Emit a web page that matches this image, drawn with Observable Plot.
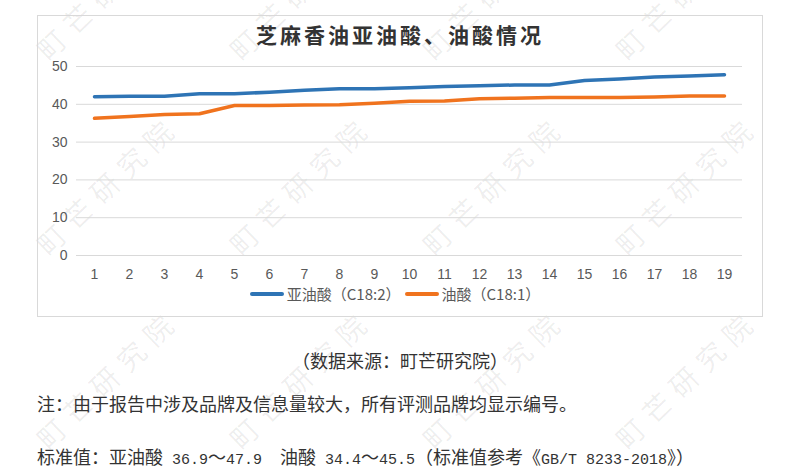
<!DOCTYPE html>
<html>
<head>
<meta charset="utf-8">
<script src="https://cdn.jsdelivr.net/npm/d3@7"></script>
<script src="https://cdn.jsdelivr.net/npm/@observablehq/plot@0.6"></script>
<style>
  html, body { margin: 0; padding: 0; background: #fff; }
  #page { position: relative; width: 800px; height: 471px; overflow: hidden; background: #fff;
          font-family: "Noto Sans CJK SC", "Noto Sans", sans-serif; }
  .wm { position: absolute; font-size: 28px; letter-spacing: 9px; color: rgba(0,0,0,0.075);
        white-space: nowrap; transform: translate(-50%, -50%) rotate(-44deg); pointer-events: none; z-index: 0; }
  #box { position: absolute; left: 37px; top: 15px; width: 724px; height: 300px; border: 1px solid #d9d9d9; z-index: 1; }
  #title { position: absolute; left: 0; width: 800px; top: 19px; text-align: center; font-size: 21px;
           font-weight: bold; letter-spacing: 3px; color: #333; z-index: 2; }
  #chart { position: absolute; left: 37px; top: 50px; z-index: 2; }
  #legend { position: absolute; left: 0; width: 790px; top: 283px; display: flex; justify-content: center;
            align-items: center; font-size: 15px; color: #595959; z-index: 2; }
  .item { display: flex; align-items: center; margin: 0 2px; }
  .sw { width: 34px; height: 4px; margin-right: 3px; border-radius: 2px; }
  .txt { position: absolute; z-index: 2; color: #333; white-space: pre; }
  .mono { font-family: "Liberation Mono", "DejaVu Sans Mono", monospace; font-size: 15px; }
</style>
</head>
<body>
<div id="page"></div>
<script>
// ---- data ----
const brands = [1, 2, 3, 4, 5, 6, 7, 8, 9, 10, 11, 12, 13, 14, 15, 16, 17, 18, 19];
const linoleic = [42.0, 42.1, 42.1, 42.8, 42.8, 43.2, 43.7, 44.1, 44.1, 44.4, 44.7, 44.9, 45.1, 45.1, 46.3, 46.7, 47.2, 47.5, 47.8];
const oleic = [36.3, 36.8, 37.3, 37.5, 39.7, 39.7, 39.8, 39.9, 40.3, 40.8, 40.9, 41.5, 41.6, 41.8, 41.8, 41.8, 41.9, 42.2, 42.2];
const seriesNames = ["亚油酸（C18:2）", "油酸（C18:1）"];
const seriesColors = ["#2e74b5", "#f0731e"];
const yTicks = [0, 10, 20, 30, 40, 50];
const titleText = "芝麻香油亚油酸、油酸情况";
const sourceText = "（数据来源：町芒研究院）";
const noteText = "注：由于报告中涉及品牌及信息量较大，所有评测品牌均显示编号。";
const standardText = "标准值：亚油酸 36.9～47.9  油酸 34.4～45.5（标准值参考《GB/T 8233-2018》）";
const watermark = "町芒研究院";
const wmX = [107, 300, 493, 686];
const wmY = [-11, 184, 378];

const rows = [];
brands.forEach((b, i) => {
  rows.push({brand: b, value: linoleic[i], series: seriesNames[0]});
  rows.push({brand: b, value: oleic[i], series: seriesNames[1]});
});

const page = document.getElementById("page");

// watermarks
for (const y of wmY) for (const x of wmX) {
  const d = document.createElement("div");
  d.className = "wm";
  d.textContent = watermark;
  d.style.left = x + "px";
  d.style.top = y + "px";
  page.appendChild(d);
}

const box = document.createElement("div");
box.id = "box";
page.appendChild(box);

const title = document.createElement("div");
title.id = "title";
title.textContent = titleText;
page.appendChild(title);

const chart = Plot.plot({
  width: 725,
  height: 240,
  marginTop: 16,
  marginBottom: 35,
  marginLeft: 39,
  marginRight: 20,
  style: {fontFamily: "'Liberation Sans', Arial, sans-serif", fontSize: "14px", color: "#595959", background: "transparent"},
  x: {type: "point", domain: brands, padding: 0.5, label: null},
  y: {domain: [0, 50], ticks: yTicks, label: null},
  color: {domain: seriesNames, range: seriesColors},
  marks: [
    Plot.ruleY(yTicks, {stroke: "#d9d9d9", strokeWidth: 1}),
    Plot.axisY({ticks: yTicks, tickSize: 0, tickPadding: 9, label: null}),
    Plot.axisX({tickSize: 0, tickPadding: 14, label: null}),
    Plot.line(rows, {x: "brand", y: "value", z: "series", stroke: "series", strokeWidth: 3.5,
                     strokeLinejoin: "round", strokeLinecap: "round"})
  ]
});
const chartWrap = document.createElement("div");
chartWrap.id = "chart";
chartWrap.appendChild(chart);
page.appendChild(chartWrap);

// legend
const legend = document.createElement("div");
legend.id = "legend";
seriesNames.forEach((name, i) => {
  const item = document.createElement("div");
  item.className = "item";
  const sw = document.createElement("div");
  sw.className = "sw";
  sw.style.background = seriesColors[i];
  const t = document.createElement("span");
  t.textContent = name;
  item.appendChild(sw);
  item.appendChild(t);
  legend.appendChild(item);
});
page.appendChild(legend);

function addText(text, opts, monoAscii) {
  const d = document.createElement("div");
  d.className = "txt";
  if (monoAscii) {
    const parts = text.match(/[\x20-\x7e]+|[^\x20-\x7e]+/g);
    for (const p of parts) {
      const s = document.createElement("span");
      if (/^[\x20-\x7e]+$/.test(p)) s.className = "mono";
      s.textContent = p;
      d.appendChild(s);
    }
  } else {
    d.textContent = text;
  }
  Object.assign(d.style, opts);
  page.appendChild(d);
}
addText(sourceText, {left: "0px", width: "800px", textAlign: "center", top: "347px", fontSize: "18px"});
addText(noteText, {left: "37px", top: "390px", fontSize: "18px"});
addText(standardText, {left: "37px", top: "443px", fontSize: "18px"}, true);
</script>
</body>
</html>
